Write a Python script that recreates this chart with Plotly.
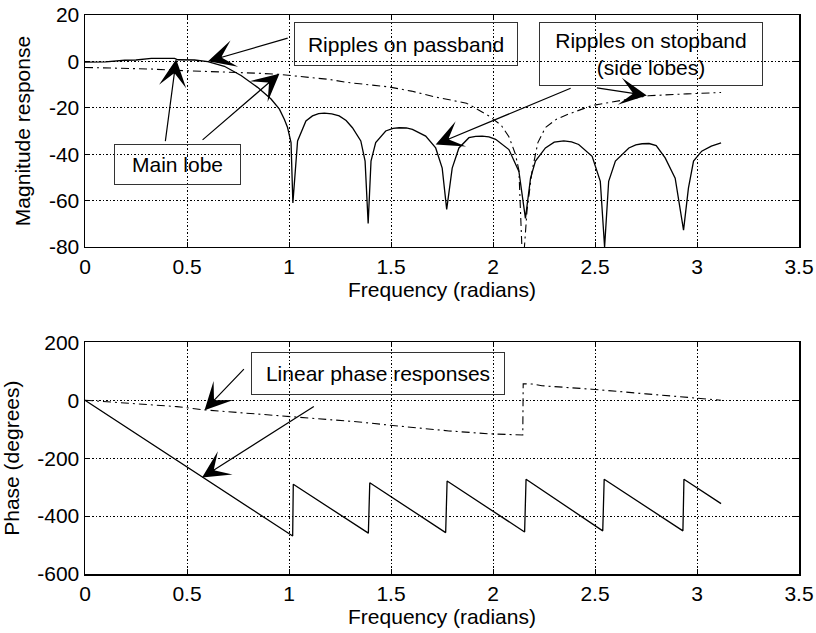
import plotly.graph_objects as go

# ---------------- data ----------------
x_ticks = [0, 0.5, 1, 1.5, 2, 2.5, 3, 3.5]
x_tick_labels = ["0", "0.5", "1", "1.5", "2", "2.5", "3", "3.5"]
mag_ticks = [-80, -60, -40, -20, 0, 20]
mag_tick_labels = ["-80", "-60", "-40", "-20", "0", "20"]
phase_ticks = [-600, -400, -200, 0, 200]
phase_tick_labels = ["-600", "-400", "-200", "0", "200"]

# magnitude response, solid filter (dB)
mag_solid_x = [0, 0.10, 0.195, 0.25, 0.325, 0.439, 0.455, 0.537, 0.602, 0.683, 0.765,
               0.846, 0.912, 0.953, 0.977, 0.993, 1.010, 1.019,
               1.042, 1.083, 1.115, 1.145, 1.173, 1.21, 1.246, 1.28, 1.311, 1.352, 1.373, 1.388,
               1.402, 1.425, 1.474, 1.51, 1.540, 1.575, 1.605, 1.670, 1.719, 1.751, 1.773,
               1.800, 1.833, 1.882, 1.915, 1.947, 1.98, 2.013, 2.078, 2.127, 2.159,
               2.184, 2.208, 2.257, 2.30, 2.347, 2.385, 2.420, 2.486, 2.526, 2.547,
               2.567, 2.600, 2.666, 2.70, 2.731, 2.765, 2.800, 2.844, 2.893, 2.934,
               2.958, 2.983, 3.023, 3.070, 3.118]
mag_solid_y = [-0.3, -0.2, 0.5, 0.6, 1.3, 1.3, 0.7, 0.6, -0.1, -2.1, -6.1,
               -11.2, -16.2, -20.6, -24.9, -28.5, -35.0, -61.0,
               -34.3, -25.7, -23.5, -22.5, -22.3, -22.6, -23.5, -25.5, -28.6, -34.3, -43.0, -69.9,
               -43.0, -35.0, -30.0, -28.9, -28.6, -28.7, -29.3, -32.2, -37.3, -46.0, -63.8,
               -46.0, -37.3, -32.9, -32.3, -32.2, -32.5, -33.6, -38.0, -47.4, -67.7,
               -50.3, -43.0, -37.3, -34.8, -34.3, -34.7, -35.8, -40.9, -51.7, -80.0,
               -51.7, -43.0, -37.3, -36.0, -35.5, -35.4, -36.3, -41.6, -50.3, -72.7,
               -54.6, -43.0, -38.7, -36.5, -35.1]

# magnitude response, dash-dot filter (dB)
mag_dash_x = [0, 0.15, 0.325, 0.488, 0.6, 0.732, 0.85, 0.953, 1.042, 1.115, 1.2, 1.279,
              1.38, 1.49, 1.6, 1.719, 1.8, 1.87, 1.98, 2.04, 2.078, 2.11, 2.127, 2.146,
              2.167, 2.192, 2.22, 2.257, 2.31, 2.371, 2.486, 2.616, 2.762, 2.95, 3.118]
mag_dash_y = [-2.6, -2.9, -3.3, -4.0, -4.3, -4.7, -5.1, -5.6, -6.4, -6.8, -7.8, -9.0,
              -10.0, -11.0, -12.8, -15.4, -16.8, -18.0, -23.5, -27.5, -32.5, -40.0, -47.0, -90.0,
              -64.0, -47.0, -35.0, -28.5, -25.0, -22.7, -19.0, -17.0, -14.8, -14.0, -13.4]

# phase response, solid filter (degrees)
phase_solid_x = [0, 1.018, 1.021, 1.389, 1.396, 1.768, 1.775, 2.155, 2.162,
                 2.538, 2.545, 2.931, 2.936, 3.118]
phase_solid_y = [0, -469, -290, -459, -285, -457, -279, -455, -273,
                 -451, -273, -451, -273, -357]

# phase response, dash-dot filter (degrees)
phase_dash_x = [0, 0.15, 0.3, 0.45, 0.577, 0.8, 1.0, 1.148, 1.344, 1.49, 1.65, 1.784,
                1.98, 2.127, 2.146, 2.148, 2.19, 2.24, 2.485, 2.75, 2.991, 3.118]
phase_dash_y = [0, -8, -14, -22, -33, -45, -55, -62, -75, -86, -97, -106,
                -116, -120, -120, 57, 56, 50, 38, 22, 8, 0]

FONT = "Liberation Sans, Arial, sans-serif"
FS = 21
DASHDOT = "8px,4px,2px,4px"

fig = go.Figure()
fig.add_trace(go.Scatter(x=mag_solid_x, y=mag_solid_y, mode="lines",
                         line=dict(color="black", width=1.3), xaxis="x", yaxis="y",
                         showlegend=False, hoverinfo="skip"))
fig.add_trace(go.Scatter(x=mag_dash_x, y=mag_dash_y, mode="lines",
                         line=dict(color="black", width=1.1, dash=DASHDOT),
                         xaxis="x", yaxis="y", showlegend=False, hoverinfo="skip"))
fig.add_trace(go.Scatter(x=phase_solid_x, y=phase_solid_y, mode="lines",
                         line=dict(color="black", width=1.3), xaxis="x2", yaxis="y2",
                         showlegend=False, hoverinfo="skip"))
fig.add_trace(go.Scatter(x=phase_dash_x, y=phase_dash_y, mode="lines",
                         line=dict(color="black", width=1.1, dash=DASHDOT),
                         xaxis="x2", yaxis="y2", showlegend=False, hoverinfo="skip"))

axis_common = dict(
    showline=True, linecolor="black", linewidth=1.5, mirror="ticks",
    ticks="inside", ticklen=5, tickwidth=1, tickcolor="black",
    showgrid=True, gridcolor="black", gridwidth=1, griddash="1.5px,2px",
    zeroline=False, automargin=False, ticklabeloverflow="allow",
    tickfont=dict(family=FONT, size=FS, color="black"),
    tickmode="array",
)

fig.update_layout(
    template="none",
    width=816, height=633,
    margin=dict(l=85, r=17, t=15, b=59),
    paper_bgcolor="white", plot_bgcolor="white",
    font=dict(family=FONT, size=FS, color="black"),
    hovermode=False,
    xaxis=dict(**axis_common, domain=[0, 1], anchor="y", range=[0, 3.5],
               tickvals=x_ticks, ticktext=x_tick_labels,
               title=dict(text="Frequency (radians)", font=dict(family=FONT, size=FS), standoff=4)),
    yaxis=dict(**axis_common, domain=[0.585, 1.0], anchor="x", range=[-80, 20],
               tickvals=mag_ticks, ticktext=mag_tick_labels,
               title=dict(text="Magnitude response", font=dict(family=FONT, size=FS), standoff=12)),
    xaxis2=dict(**axis_common, domain=[0, 1], anchor="y2", range=[0, 3.5],
                tickvals=x_ticks, ticktext=x_tick_labels,
                title=dict(text="Frequency (radians)", font=dict(family=FONT, size=FS), standoff=4)),
    yaxis2=dict(**axis_common, domain=[0, 0.4145], anchor="x2", range=[-600, 200],
                tickvals=phase_ticks, ticktext=phase_tick_labels,
                title=dict(text="Phase (degrees)", font=dict(family=FONT, size=FS), standoff=20)),
)

# text boxes (transparent, thin border)
boxes = [
    dict(xref="x", yref="y", x=1.575, y=7.5, text="Ripples on passband", w=222, h=42),
    dict(xref="x", yref="y", x=2.773, y=3.2, text="Ripples on stopband<br>(side lobes)", w=222, h=62),
    dict(xref="x", yref="y", x=0.4525, y=-44.6, text="Main lobe", w=125, h=39),
    dict(xref="x2", yref="y2", x=1.438, y=92.9, text="Linear phase responses", w=252, h=41),
]
for b in boxes:
    fig.add_annotation(xref=b["xref"], yref=b["yref"], x=b["x"], y=b["y"], text=b["text"],
                       showarrow=False, width=b["w"], height=b["h"], align="center",
                       valign="middle", bordercolor="#333333", borderwidth=1, borderpad=0,
                       font=dict(family=FONT, size=FS, color="black"))

# arrows: (tail x, tail y) -> (tip x, tip y)
arrows = [
    ("x", "y", 1.001, 10.2, 0.603, 0.1),
    ("x", "y", 0.393, -35.0, 0.447, 0.9),
    ("x", "y", 0.569, -34.4, 0.953, -5.3),
    ("x", "y", 2.388, -11.3, 1.719, -35.8),
    ("x", "y", 2.502, -11.3, 2.754, -14.7),
    ("x2", "y2", 0.786, 112.6, 0.586, -34.5),
    ("x2", "y2", 1.129, -18.6, 0.574, -267.0),
]
for xr, yr, tx, ty, hx, hy in arrows:
    fig.add_annotation(xref=xr, yref=yr, x=hx, y=hy, axref=xr, ayref=yr, ax=tx, ay=ty,
                       text="", showarrow=True, arrowhead=3, arrowsize=3.8,
                       arrowwidth=1.2, arrowcolor="black", standoff=0)

fig.write_html("out.html", config={"displayModeBar": False, "staticPlot": True},
               post_script="document.body.style.margin='0px';")
